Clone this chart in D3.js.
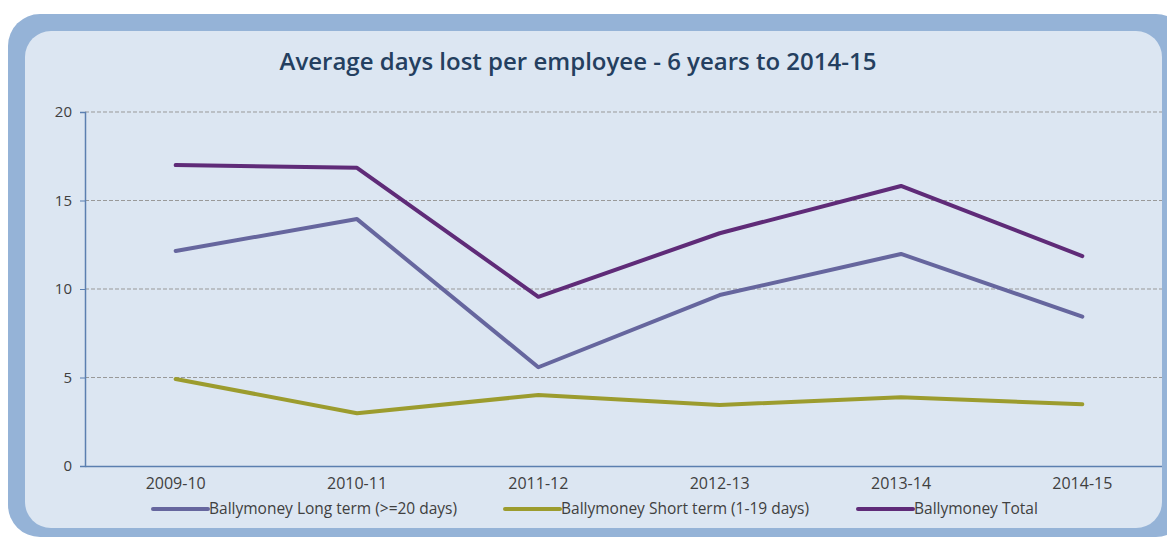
<!DOCTYPE html>
<html>
<head>
<meta charset="utf-8">
<script src="https://cdn.jsdelivr.net/npm/d3@7"></script>
<style>
  body { margin: 0; background: #fff; }
  text { font-family: "Open Sans", "Noto Sans", sans-serif; }
</style>
</head>
<body>
<div id="chart"></div>
<script>
const years = ['2009-10', '2010-11', '2011-12', '2012-13', '2013-14', '2014-15'];
const longTerm = [12.15, 13.95, 5.58, 9.66, 11.98, 8.44];
const shortTerm = [4.92, 2.98, 4.01, 3.45, 3.88, 3.49];
const total = [17.0, 16.85, 9.56, 13.15, 15.82, 11.86];
const yTicks = [0, 5, 10, 15, 20];
const seriesNames = ['Ballymoney Long term (>=20 days)', 'Ballymoney Short term (1-19 days)', 'Ballymoney Total'];

const W = 1167, H = 541;
const svg = d3.select('#chart').append('svg')
    .attr('width', W)
    .attr('height', H);

// Frame
svg.append('rect')
    .attr('x', 8).attr('y', 14)
    .attr('width', 1180).attr('height', 523)
    .attr('rx', 32)
    .attr('fill', '#95b3d7');
svg.append('rect')
    .attr('x', 25).attr('y', 31)
    .attr('width', 1137).attr('height', 497)
    .attr('rx', 26)
    .attr('fill', '#dce6f2');

svg.append('clipPath').attr('id', 'inner')
    .append('rect')
    .attr('x', 25).attr('y', 31)
    .attr('width', 1137).attr('height', 497);

// Title
svg.append('text')
    .attr('x', 578)
    .attr('y', 70)
    .attr('text-anchor', 'middle')
    .attr('font-size', 24)
    .attr('font-weight', 600)
    .attr('fill', '#243f60')
    .text('Average days lost per employee - 6 years to 2014-15');

const plotLeft = 85, plotRight = 1173, plotTop = 112, plotBottom = 466;

const x = d3.scaleBand().domain(years).range([plotLeft, plotRight]);
const y = d3.scaleLinear().domain([0, 20]).range([plotBottom, plotTop]);

const g = svg.append('g').attr('clip-path', 'url(#inner)');

// Gridlines
g.selectAll('.grid')
    .data(yTicks.filter(d => d > 0))
    .enter().append('line')
    .attr('x1', plotLeft).attr('x2', plotRight)
    .attr('y1', d => y(d)).attr('y2', d => y(d))
    .attr('stroke', '#999999')
    .attr('stroke-width', 1)
    .attr('stroke-dasharray', '4,2');

// Y Axis
const yAxis = svg.append('g')
    .attr('transform', `translate(${plotLeft},0)`)
    .call(d3.axisLeft(y).tickValues(yTicks).tickSize(5).tickPadding(8));
yAxis.select('.domain').attr('stroke', '#5b7fb0').attr('stroke-width', 1.5);
yAxis.selectAll('.tick line').attr('stroke', '#5b7fb0');
yAxis.selectAll('.tick text')
    .attr('font-size', 15)
    .attr('fill', '#404040');

// X Axis
const xAxis = g.append('g')
    .attr('transform', `translate(0,${plotBottom})`)
    .call(d3.axisBottom(x).tickSize(0).tickPadding(12).tickSizeOuter(0));
xAxis.select('.domain').attr('stroke', '#5b7fb0').attr('stroke-width', 1.5);
xAxis.selectAll('.tick text')
    .attr('font-size', 16)
    .attr('fill', '#404040');

// Lines
const series = [
  { name: seriesNames[0], values: longTerm, color: '#66669e' },
  { name: seriesNames[1], values: shortTerm, color: '#9c9c2e' },
  { name: seriesNames[2], values: total, color: '#5f2b78' }
];

const line = d3.line()
    .x((d, i) => x(years[i]) + x.bandwidth() / 2)
    .y(d => y(d));

g.selectAll('.series')
    .data(series)
    .enter().append('path')
    .attr('fill', 'none')
    .attr('stroke', d => d.color)
    .attr('stroke-width', 4)
    .attr('stroke-linecap', 'round')
    .attr('stroke-linejoin', 'round')
    .attr('d', d => line(d.values));

// Legend
const legendX = [153, 505, 858];
const legend = svg.append('g');
series.forEach((s, i) => {
  const lg = legend.append('g').attr('transform', `translate(${legendX[i]},509)`);
  lg.append('line')
      .attr('x1', 0).attr('x2', 55)
      .attr('stroke', s.color)
      .attr('stroke-width', 4)
      .attr('stroke-linecap', 'round');
  lg.append('text')
      .attr('x', 56)
      .attr('dy', '0.35em')
      .attr('font-size', 15.5)
      .attr('fill', '#404040')
      .text(s.name);
});
</script>
</body>
</html>
